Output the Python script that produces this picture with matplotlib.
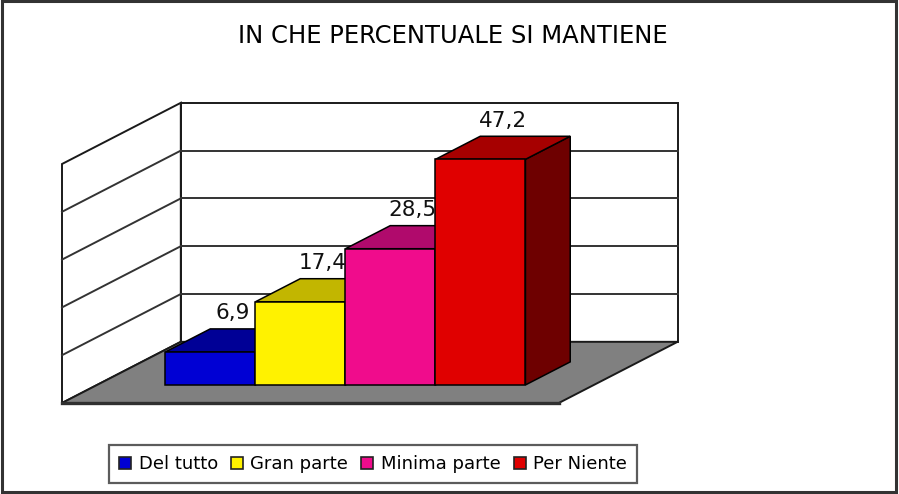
import matplotlib.pyplot as plt
from matplotlib.patches import Polygon, Rectangle, Patch

# data
categories = ["Del tutto", "Gran parte", "Minima parte", "Per Niente"]
values = [6.9, 17.4, 28.5, 47.2]
labels = ["6,9", "17,4", "28,5", "47,2"]
front_colors = ["#0000d4", "#fff200", "#f00c8c", "#e00000"]
top_colors = ["#000096", "#c2b600", "#b00a6c", "#a60000"]
side_colors = ["#00006a", "#8a8000", "#7a064a", "#6e0000"]
y_max = 50
y_step = 10

# oblique "3d" geometry, x in bar widths, y in value units (front plane)
GAP = 0.76          # empty floor left/right of the bars
DX, DY = 1.32, 12.8  # shift of the full floor depth
D0, D1 = 0.295, 0.672  # bar depth band
W = len(values) + 2 * GAP

fig = plt.figure(figsize=(8.99, 4.94), dpi=100)
ax = fig.add_axes([0, 0, 1, 1])
px_x, px_y = 90.0, 4.78
ax.set_xlim(-62 / px_x, (899 - 62) / px_x)
ax.set_ylim(-(494 - 403) / px_y, 403 / px_y)
ax.axis("off")

edge = "#1a1a1a"
grid = "#333333"

# walls
ax.add_patch(Polygon([(DX, DY), (W + DX, DY), (W + DX, DY + y_max), (DX, DY + y_max)],
                     closed=True, fc="white", ec=edge, lw=1.4, zorder=1))
ax.add_patch(Polygon([(0, 0), (DX, DY), (DX, DY + y_max), (0, y_max)],
                     closed=True, fc="white", ec=edge, lw=1.4, zorder=1))
for v in range(y_step, y_max, y_step):
    ax.plot([DX, W + DX], [DY + v, DY + v], color=grid, lw=1.4, zorder=2)
    ax.plot([0, DX], [v, DY + v], color=grid, lw=1.4, zorder=2)

# floor
ax.add_patch(Polygon([(0, 0), (W, 0), (W + DX, DY), (DX, DY)],
                     closed=True, fc="#808080", ec=edge, lw=1.4, zorder=3))
ax.plot([0, W], [0, 0], color="#303030", lw=2.4, zorder=3)

# bars
for i, v in enumerate(values):
    x0 = GAP + i + DX * D0
    x1 = x0 + 1
    y0 = DY * D0
    ox, oy = DX * (D1 - D0), DY * (D1 - D0)
    z = 4 + i
    ax.add_patch(Polygon([(x1, y0), (x1 + ox, y0 + oy), (x1 + ox, y0 + oy + v), (x1, y0 + v)],
                         closed=True, fc=side_colors[i], ec="black", lw=1.1, zorder=z))
    ax.add_patch(Polygon([(x0, y0 + v), (x1, y0 + v), (x1 + ox, y0 + oy + v), (x0 + ox, y0 + oy + v)],
                         closed=True, fc=top_colors[i], ec="black", lw=1.1, zorder=z))
    ax.add_patch(Rectangle((x0, y0), 1, v, fc=front_colors[i], ec="black", lw=1.1, zorder=z))
    ax.text(x0 + 0.5 + ox / 2, y0 + oy + v + 1.2, labels[i], ha="center", va="bottom",
            fontsize=15.5, color="#111111", zorder=10)

fig.text(0.504, 0.927, "IN CHE PERCENTUALE SI MANTIENE", ha="center", va="center",
         fontsize=17.5, color="black")

handles = [Patch(fc=c, ec="#222222", lw=1.2) for c in front_colors]
leg = fig.legend(handles, categories, loc="center", bbox_to_anchor=(0.415, 0.06),
                 ncol=4, frameon=True, fancybox=False, fontsize=13,
                 handlelength=0.65, handleheight=0.65, handletextpad=0.44,
                 columnspacing=0.72, borderpad=0.55, borderaxespad=0)
leg.get_frame().set_edgecolor("#333333")
leg.get_frame().set_linewidth(1.6)

fig.patches.append(Rectangle((0.002, 0.004), 0.995, 0.993, transform=fig.transFigure,
                             fill=False, ec="#333333", lw=2.2))

fig.savefig("out.png", dpi=100)
